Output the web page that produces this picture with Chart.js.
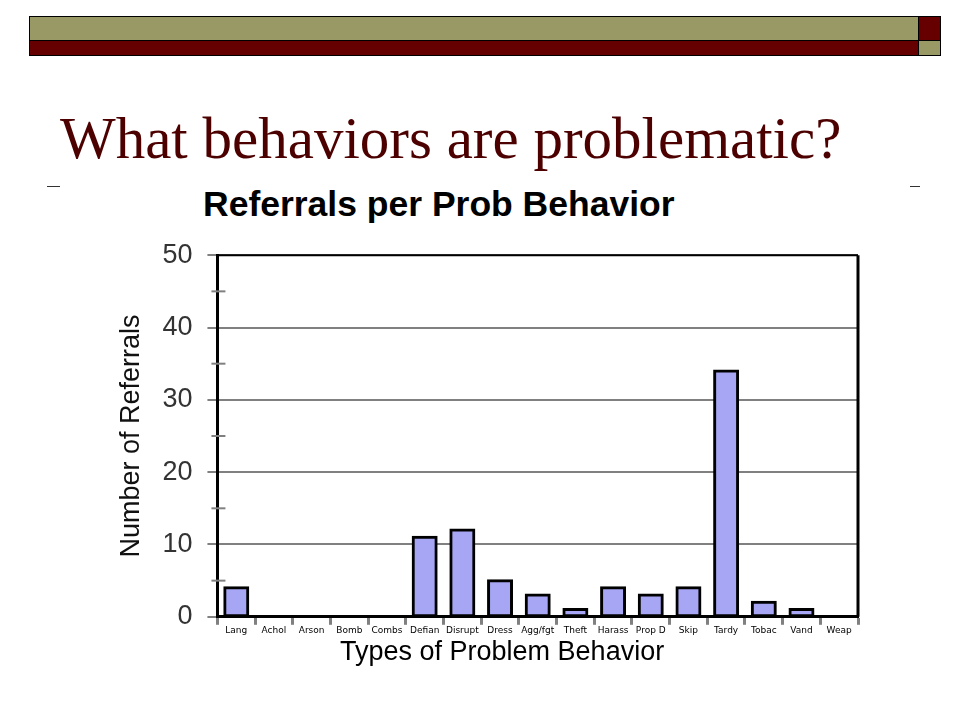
<!DOCTYPE html>
<html>
<head>
<meta charset="utf-8">
<script src="https://cdn.jsdelivr.net/npm/chart.js@4"></script>
<style>
    body { margin: 0; width: 960px; height: 720px; background: #fff; position: relative; overflow: hidden; }
    .band { position: absolute; box-sizing: border-box; border: 1px solid #000; }
    #titulo {
        position: absolute; left: 60px; top: 104px; margin: 0;
        font-family: 'Liberation Serif', 'Times New Roman', serif;
        font-weight: normal; font-size: 59px; color: #4d0000; white-space: nowrap;
    }
    .traco { position: absolute; height: 1px; background: #333; top: 186px; }
    .rotulo {
        position: absolute; margin: 0; line-height: 1; white-space: nowrap; color: #000;
        font-family: 'Liberation Sans', Arial, sans-serif;
    }
    #tituloGrafico { left: 203px; top: 187px; font-size: 35.5px; font-weight: bold; }
    #tituloX { left: 340px; top: 638px; font-size: 27px; }
    #caixa { position: absolute; left: 101px; top: 224px; width: 775px; height: 424px; }
</style>
</head>
<body>
<div class="band" style="left:29px; top:16px; width:890px; height:25px; background:#999966;"></div>
<div class="band" style="left:918px; top:16px; width:23px; height:25px; background:#660000;"></div>
<div class="band" style="left:29px; top:40px; width:890px; height:16px; background:#660000;"></div>
<div class="band" style="left:918px; top:40px; width:23px; height:16px; background:#999966;"></div>
<h1 id="titulo">What behaviors are problematic?</h1>
<div class="traco" style="left:47px; width:13px;"></div>
<div class="traco" style="left:910px; width:10px;"></div>
<div class="rotulo" id="tituloGrafico">Referrals per Prob Behavior</div>
<div id="caixa"><canvas id="referralsChart"></canvas></div>
<div class="rotulo" id="tituloX">Types of Problem Behavior</div>
<script>
    // Dados
    const categorias = [
        'Lang', 'Achol', 'Arson', 'Bomb', 'Combs', 'Defian', 'Disrupt', 'Dress', 'Agg/fgt',
        'Theft', 'Harass', 'Prop D', 'Skip', 'Tardy', 'Tobac', 'Vand', 'Weap'
    ];
    const referrals = [4, 0, 0, 0, 0, 11, 12, 5, 3, 1, 4, 3, 4, 34, 2, 1, 0];
    const yTicks = [0, 10, 20, 30, 40, 50];
    const yMinorTicks = [5, 15, 25, 35, 45];

    // Moldura preta + marcas menores do eixo Y
    const moldura = {
        id: 'moldura',
        afterDraw(chart) {
            const { ctx, chartArea: a, scales: { y } } = chart;
            ctx.save();
            ctx.strokeStyle = '#000';
            ctx.lineWidth = 2;
            ctx.beginPath();
            ctx.moveTo(a.left, a.top);
            ctx.lineTo(a.right, a.top);
            ctx.stroke();
            ctx.lineWidth = 3;
            ctx.beginPath();
            ctx.moveTo(a.right, a.top);
            ctx.lineTo(a.right, a.bottom);
            ctx.stroke();
            ctx.strokeStyle = '#808080';
            ctx.lineWidth = 2;
            yMinorTicks.forEach(v => {
                const py = y.getPixelForValue(v);
                ctx.beginPath();
                ctx.moveTo(a.left - 6, py);
                ctx.lineTo(a.left + 8, py);
                ctx.stroke();
            });
            ctx.restore();
        }
    };

    const ctx = document.getElementById('referralsChart').getContext('2d');
    new Chart(ctx, {
        type: 'bar',
        data: {
            labels: categorias,
            datasets: [{
                label: 'Referrals',
                data: referrals,
                backgroundColor: '#a6a6f5',
                borderColor: '#000',
                borderWidth: 3,
                borderSkipped: false,
                inflateAmount: 1.5, // borda centrada na borda da barra
                barPercentage: 0.61,
                categoryPercentage: 1
            }]
        },
        options: {
            responsive: true,
            maintainAspectRatio: false,
            animation: false,
            layout: { padding: { left: 14, right: 18, top: 4, bottom: 10 } },
            plugins: {
                legend: { display: false },
                tooltip: { enabled: false }
            },
            scales: {
                x: {
                    grid: {
                        offset: true,
                        drawOnChartArea: false,
                        drawTicks: true,
                        tickLength: 8,
                        tickWidth: 3,
                        tickColor: '#808080'
                    },
                    border: { color: '#000', width: 3 },
                    ticks: {
                        autoSkip: false,
                        maxRotation: 0,
                        color: '#000',
                        padding: 0,
                        font: { size: 9, family: 'DejaVu Sans, Tahoma, sans-serif' }
                    }
                },
                y: {
                    min: 0,
                    max: 50,
                    afterBuildTicks: scale => { scale.ticks = yTicks.map(v => ({ value: v })); },
                    grid: {
                        color: '#808080',
                        lineWidth: 2,
                        tickLength: 10,
                        tickColor: '#808080'
                    },
                    border: { color: '#000', width: 3 },
                    ticks: {
                        color: '#333',
                        padding: 15,
                        font: { size: 27, family: 'Liberation Sans, Arial, sans-serif' }
                    },
                    title: {
                        display: true,
                        text: 'Number of Referrals',
                        font: { size: 27, family: 'Liberation Sans, Arial, sans-serif' },
                        color: '#111',
                        padding: { top: 0, bottom: 0 }
                    }
                }
            }
        },
        plugins: [moldura]
    });
</script>
</body>
</html>
